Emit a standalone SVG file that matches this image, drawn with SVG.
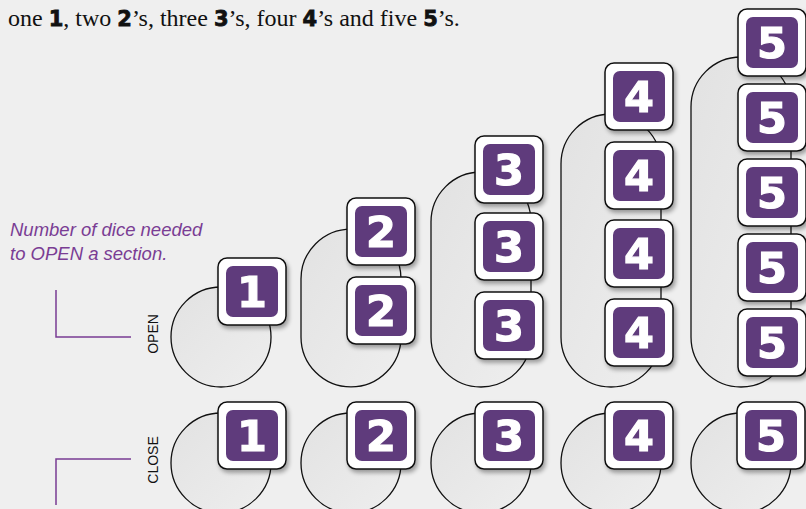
<svg xmlns="http://www.w3.org/2000/svg" width="806" height="509" viewBox="0 0 806 509">
<defs>
<style>
.sec{fill:url(#secg);stroke:#111;stroke-width:1.3}
.tw{fill:#fff;stroke:#111;stroke-width:1.5}
.tp{fill:#5e3a7b}
.dg{font-family:"DejaVu Sans",sans-serif;font-weight:bold;font-size:43px;fill:#fff;stroke:#fff;stroke-width:1.2;text-anchor:middle}
.hd{font-family:"Liberation Serif",serif;font-size:24px;fill:#111}
.hb{font-family:"DejaVu Sans",sans-serif;font-weight:900;font-size:21px;fill:#111;stroke:#111;stroke-width:0.8}
.note{font-family:"Liberation Sans",sans-serif;font-style:italic;font-size:18.5px;fill:#7a3d94}
.lab{font-family:"Liberation Sans",sans-serif;font-size:14px;fill:#111;text-anchor:middle}
.pl{fill:none;stroke:#7a3d94;stroke-width:1.5}
</style>
<linearGradient id="secg" x1="0" y1="0" x2="1" y2="1">
<stop offset="0" stop-color="#e2e2e2"/>
<stop offset="1" stop-color="#eeeeee"/>
</linearGradient>
<filter id="sh" x="-20%" y="-20%" width="150%" height="150%">
<feDropShadow dx="2" dy="3" stdDeviation="2" flood-color="#000" flood-opacity="0.35"/>
</filter>
<g id="tile">
<rect class="tw" x="0" y="0" width="68" height="67" rx="9"/>
<rect class="tp" x="8" y="8" width="52" height="51" rx="7"/>
</g>
</defs>
<rect width="806" height="509" fill="#efefef"/>

<text class="hd" x="8" y="26">one <tspan class="hb">1</tspan>, two <tspan class="hb">2</tspan>’s, three <tspan class="hb">3</tspan>’s, four <tspan class="hb">4</tspan>’s and five <tspan class="hb">5</tspan>’s.</text>

<text class="note" x="10" y="236">Number of dice needed</text>
<text class="note" x="10" y="260">to OPEN a section.</text>

<path class="pl" d="M56,290 V337 H131"/>
<path class="pl" d="M131,459 H56 V505"/>
<text class="lab" transform="translate(158,334) rotate(-90)">OPEN</text>
<text class="lab" transform="translate(158,460) rotate(-90)">CLOSE</text>

<g id="open-sections">
<circle id="open-1" class="sec" cx="221" cy="337" r="50"/>
<path id="open-2" class="sec" d="M301,279 A50,50 0 0 1 401,279 V337 A50,50 0 0 1 301,337 Z"/>
<path id="open-3" class="sec" d="M431,222 A50,50 0 0 1 531,222 V337 A50,50 0 0 1 431,337 Z"/>
<path id="open-4" class="sec" d="M561,164 A50,50 0 0 1 661,164 V337 A50,50 0 0 1 561,337 Z"/>
<path id="open-5" class="sec" d="M691,107 A50,50 0 0 1 791,107 V337 A50,50 0 0 1 691,337 Z"/>
</g>
<g id="close-sections">
<circle id="close-1" class="sec" cx="221" cy="463" r="50"/>
<circle id="close-2" class="sec" cx="351" cy="463" r="50"/>
<circle id="close-3" class="sec" cx="481" cy="463" r="50"/>
<circle id="close-4" class="sec" cx="611" cy="463" r="50"/>
<circle id="close-5" class="sec" cx="741" cy="463" r="50"/>
</g>

<g id="tiles" filter="url(#sh)">
<g id="o1a" transform="translate(218,258)"><use href="#tile"/><text class="dg" x="34" y="49">1</text></g>

<g id="o2a" transform="translate(347,198)"><use href="#tile"/><text class="dg" x="34" y="49">2</text></g>
<g id="o2b" transform="translate(347,277)"><use href="#tile"/><text class="dg" x="34" y="49">2</text></g>

<g id="o3a" transform="translate(475,136)"><use href="#tile"/><text class="dg" x="34" y="49">3</text></g>
<g id="o3b" transform="translate(475,213)"><use href="#tile"/><text class="dg" x="34" y="49">3</text></g>
<g id="o3c" transform="translate(475,292)"><use href="#tile"/><text class="dg" x="34" y="49">3</text></g>

<g id="o4a" transform="translate(605,63)"><use href="#tile"/><text class="dg" x="34" y="49">4</text></g>
<g id="o4b" transform="translate(605,142)"><use href="#tile"/><text class="dg" x="34" y="49">4</text></g>
<g id="o4c" transform="translate(605,220)"><use href="#tile"/><text class="dg" x="34" y="49">4</text></g>
<g id="o4d" transform="translate(605,299)"><use href="#tile"/><text class="dg" x="34" y="49">4</text></g>

<g id="o5a" transform="translate(738,9)"><use href="#tile"/><text class="dg" x="34" y="49">5</text></g>
<g id="o5b" transform="translate(738,84)"><use href="#tile"/><text class="dg" x="34" y="49">5</text></g>
<g id="o5c" transform="translate(738,159)"><use href="#tile"/><text class="dg" x="34" y="49">5</text></g>
<g id="o5d" transform="translate(738,234)"><use href="#tile"/><text class="dg" x="34" y="49">5</text></g>
<g id="o5e" transform="translate(738,309)"><use href="#tile"/><text class="dg" x="34" y="49">5</text></g>

<g id="c1" transform="translate(218,402)"><use href="#tile"/><text class="dg" x="34" y="49">1</text></g>
<g id="c2" transform="translate(347,402)"><use href="#tile"/><text class="dg" x="34" y="49">2</text></g>
<g id="c3" transform="translate(475,402)"><use href="#tile"/><text class="dg" x="34" y="49">3</text></g>
<g id="c4" transform="translate(605,402)"><use href="#tile"/><text class="dg" x="34" y="49">4</text></g>
<g id="c5" transform="translate(737,402)"><use href="#tile"/><text class="dg" x="34" y="49">5</text></g>
</g>
</svg>
